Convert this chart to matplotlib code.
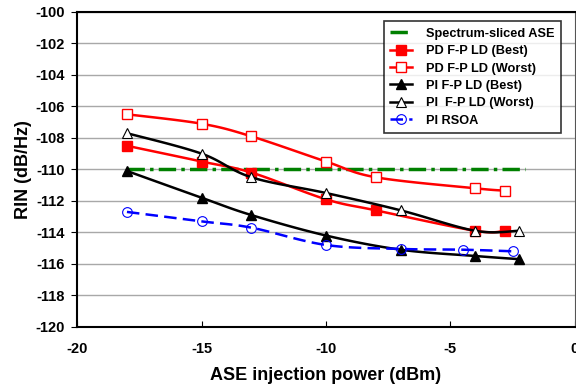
import numpy as np
import matplotlib
matplotlib.use('Agg')
import matplotlib.pyplot as plt

plt.rcParams['font.family'] = ['Liberation Sans', 'DejaVu Sans']
plt.rcParams['font.weight'] = 'bold'
plt.rcParams['axes.unicode_minus'] = False

# data
ase_x = [-18, -2]
ase_y = [-110, -110]

pd_best_x = [-18, -15, -13, -10, -8, -4, -2.8]
pd_best_y = [-108.5, -109.5, -110.2, -111.9, -112.6, -113.9, -113.9]

pd_worst_x = [-18, -15, -13, -10, -8, -4, -2.8]
pd_worst_y = [-106.5, -107.1, -107.9, -109.5, -110.5, -111.2, -111.35]

pi_best_x = [-18, -15, -13, -10, -7, -4, -2.25]
pi_best_y = [-110.1, -111.8, -112.9, -114.2, -115.1, -115.5, -115.7]

pi_worst_x = [-18, -15, -13, -10, -7, -4, -2.25]
pi_worst_y = [-107.7, -109.0, -110.5, -111.5, -112.6, -113.9, -113.9]

rsoa_x = [-18, -15, -13, -10, -7, -4.5, -2.5]
rsoa_y = [-112.7, -113.3, -113.7, -114.8, -115.05, -115.1, -115.2]


def smooth(xs, ys, n=20):
    # catmull-rom through the points, like excel's smoothed line
    p = np.column_stack([xs, ys]).astype(float)
    p = np.vstack([p[0], p, p[-1]])
    out = []
    for i in range(1, len(p) - 2):
        p0, p1, p2, p3 = p[i - 1], p[i], p[i + 1], p[i + 2]
        t = np.linspace(0, 1, n, endpoint=False)[:, None]
        seg = 0.5 * ((2 * p1) + (-p0 + p2) * t + (2 * p0 - 5 * p1 + 4 * p2 - p3) * t ** 2
                     + (-p0 + 3 * p1 - 3 * p2 + p3) * t ** 3)
        out.append(seg)
    out.append(p[-2][None, :])
    c = np.vstack(out)
    return c[:, 0], c[:, 1], list(range(0, len(c), n))


fig = plt.figure(figsize=(5.76, 3.85), dpi=100)
ax = fig.add_axes([0.134, 0.151, 0.864, 0.818])

ax.plot(ase_x, ase_y, color='#008000', lw=2.5, dashes=(5, 1.5, 1, 1.5), label='Spectrum-sliced ASE')

series = [
    (pd_best_x, pd_best_y, dict(color='red', marker='s', mfc='red', mec='red', ms=7), None, 'PD F-P LD (Best)'),
    (pd_worst_x, pd_worst_y, dict(color='red', marker='s', mfc='white', mec='red', ms=7), None, 'PD F-P LD (Worst)'),
    (pi_best_x, pi_best_y, dict(color='black', marker='^', mfc='black', mec='black', ms=7), None, 'PI F-P LD (Best)'),
    (pi_worst_x, pi_worst_y, dict(color='black', marker='^', mfc='white', mec='black', ms=7, mew=0.8), None, 'PI  F-P LD (Worst)'),
    (rsoa_x, rsoa_y, dict(color='blue', marker='o', mfc='none', mec='blue', ms=7, mew=0.8), (5, 2.5), 'PI RSOA'),
]
for xs, ys, style, dash, lab in series:
    sx, sy, idx = smooth(xs, ys)
    line, = ax.plot(sx, sy, lw=1.8, markevery=idx, label=lab, **style)
    if dash:
        line.set_dashes(dash)

ax.set_xlim(-20, 0)
ax.set_ylim(-120, -100)
ax.set_xticks([-20, -15, -10, -5, 0])
ax.set_yticks(np.arange(-120, -99, 2))
ax.yaxis.grid(True, color='#a8a8a8', lw=1)
ax.set_axisbelow(True)
ax.tick_params(axis='x', direction='in', length=4, labelsize=10.5, pad=11)
ax.tick_params(axis='y', direction='out', length=4, labelsize=10.5, pad=5)
for lbl in ax.get_xticklabels() + ax.get_yticklabels():
    lbl.set_fontweight('bold')
for s in ['left', 'bottom', 'top']:
    ax.spines[s].set_linewidth(1.5)
ax.spines['right'].set_color('#555555')

ax.set_xlabel('ASE injection power (dBm)', fontsize=13, fontweight='bold', labelpad=8)
ax.set_ylabel('RIN (dB/Hz)', fontsize=13, fontweight='bold', labelpad=2)

leg = ax.legend(loc='upper right', bbox_to_anchor=(0.985, 0.99), frameon=True,
                fancybox=False, edgecolor='black', handlelength=1.7, handletextpad=1.1,
                labelspacing=0.42, borderpad=0.5, prop={'weight': 'bold', 'size': 9.2})
leg.get_frame().set_linewidth(1.2)

plt.savefig('out.png', dpi=100)
